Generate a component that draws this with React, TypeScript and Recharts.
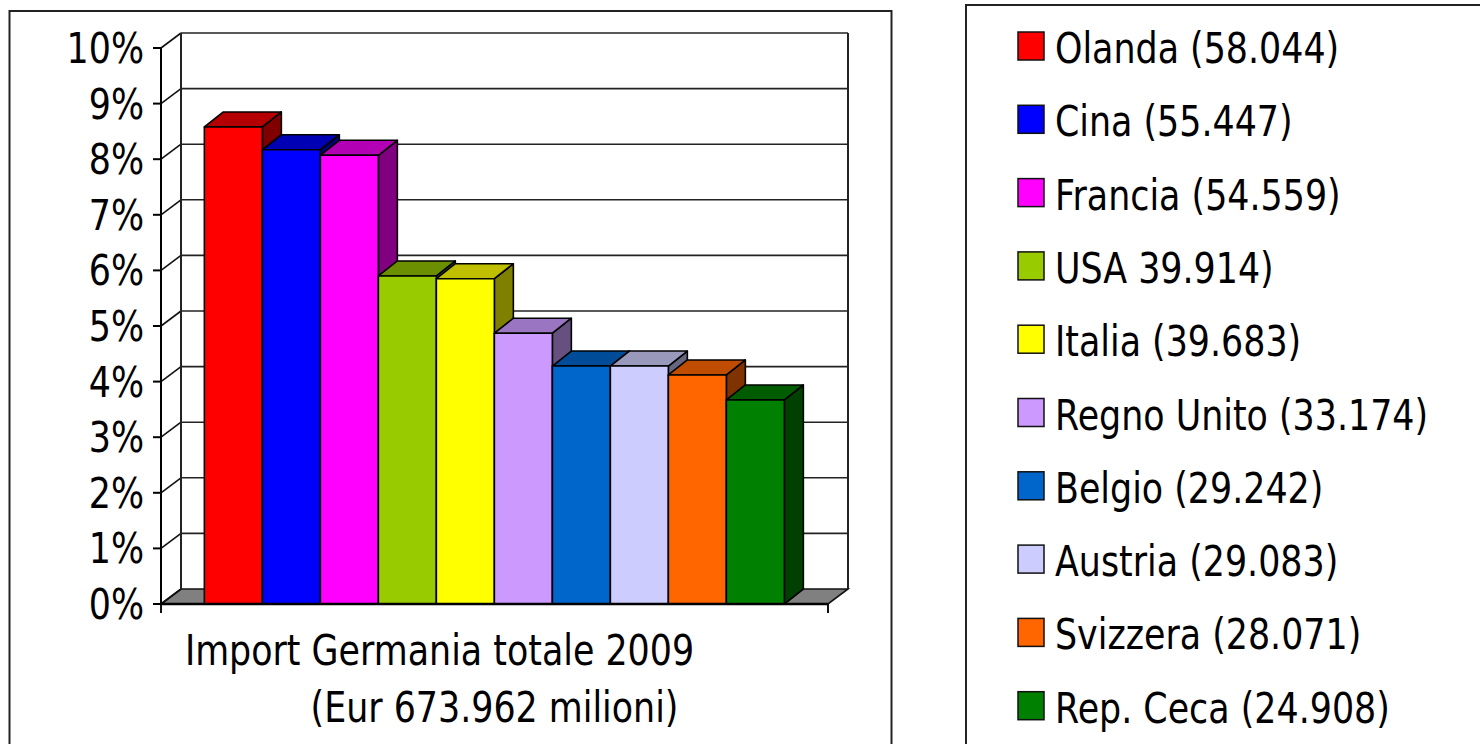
import React from "react";
import { BarChart, Bar, XAxis, YAxis, CartesianGrid } from "recharts";

const countries = [
  "Olanda",
  "Cina",
  "Francia",
  "USA",
  "Italia",
  "Regno Unito",
  "Belgio",
  "Austria",
  "Svizzera",
  "Rep. Ceca",
];
const legendLabels = [
  "Olanda (58.044)",
  "Cina (55.447)",
  "Francia (54.559)",
  "USA 39.914)",
  "Italia (39.683)",
  "Regno Unito (33.174)",
  "Belgio (29.242)",
  "Austria (29.083)",
  "Svizzera (28.071)",
  "Rep. Ceca (24.908)",
];
// share of total German imports, in %
const shares = [8.58, 8.17, 8.07, 5.9, 5.85, 4.87, 4.28, 4.28, 4.12, 3.67];
const fronts = ["#ff0000", "#0000ff", "#ff00ff", "#99cc00", "#ffff00", "#cc99ff", "#0066cc", "#ccccff", "#ff6600", "#008000"];
const tops = ["#b40000", "#0000b4", "#b400b4", "#6b8f00", "#bfbf00", "#9a75c2", "#004c99", "#9999bb", "#c04c00", "#005c00"];
const sides = ["#800000", "#000080", "#800080", "#4d6600", "#808000", "#66507f", "#003366", "#666680", "#803300", "#004000"];
const yTicks = [0, 1, 2, 3, 4, 5, 6, 7, 8, 9, 10];
const axisTitle = ["Import Germania totale 2009", "(Eur 673.962 milioni)"];

const FONT = "'DejaVu Sans', Verdana, sans-serif";
const SQUEEZE = 0.83;
const DX = 20;
const DY = 15;
const BAR_DX = 19;

const data = [
  countries.reduce(
    (row, _c, i) => ({ ...row, [`s${i}`]: shares[i] }),
    { name: axisTitle.join(" ") } as Record<string, string | number>
  ),
];

const Box3D = (props: any) => {
  const { x, y, width, height, front, top, side } = props;
  if (width == null || height == null) return null;
  const w = width;
  const h = height;
  return (
    <g stroke="#000" strokeWidth={1.6} strokeLinejoin="round">
      <polygon
        points={`${x + w},${y} ${x + w + BAR_DX},${y - DY} ${x + w + BAR_DX},${y + h - DY} ${x + w},${y + h}`}
        fill={side}
      />
      <polygon
        points={`${x},${y} ${x + BAR_DX},${y - DY} ${x + w + BAR_DX},${y - DY} ${x + w},${y}`}
        fill={top}
      />
      <rect x={x} y={y} width={w} height={h} fill={front} />
    </g>
  );
};

const HLine = (props: any) => {
  const { x1, y1, x2, index } = props;
  const bottom = props.y != null && props.height != null ? props.y + props.height : null;
  const isFloor = bottom != null ? Math.abs(y1 - bottom) < 0.5 : index === 0;
  return (
    <g key={props.key}>
      {isFloor ? (
        <polygon
          points={`${x1},${y1} ${x1 + DX},${y1 - DY} ${x2 + DX},${y1 - DY} ${x2},${y1}`}
          fill="#808080"
          stroke="#111"
          strokeWidth={1.6}
        />
      ) : (
        <line x1={x1 + DX} y1={y1 - DY} x2={x2 + DX} y2={y1 - DY} stroke="#222" strokeWidth={1.6} />
      )}
      <line x1={x1} y1={y1} x2={x1 + DX} y2={y1 - DY} stroke="#111" strokeWidth={1.6} />
    </g>
  );
};

const VLine = (props: any) => {
  const { x1, y1, y2 } = props;
  return (
    <g key={props.key}>
      <line x1={x1 + DX} y1={y1 - DY} x2={x1 + DX} y2={y2 - DY} stroke="#222" strokeWidth={2} />
      <line x1={x1} y1={y2} x2={x1} y2={y2 + 9} stroke="#111" strokeWidth={2} />
    </g>
  );
};

const YTick = (props: any) => {
  const { x, y, payload } = props;
  return (
    <text
      transform={`translate(${x},${y + 15}) scale(${SQUEEZE},1)`}
      textAnchor="end"
      fontFamily={FONT}
      fontSize={42}
      fill="#000"
    >
      {`${payload.value}%`}
    </text>
  );
};

const XTick = (props: any) => {
  const { x, y } = props;
  return (
    <g fontFamily={FONT} fontSize={42} fill="#000">
      <text transform={`translate(${x - 55},${y + 61}) scale(${SQUEEZE},1)`} textAnchor="middle">
        {axisTitle[0]}
      </text>
      <text transform={`translate(${x},${y + 118}) scale(${SQUEEZE},1)`} textAnchor="middle">
        {axisTitle[1]}
      </text>
    </g>
  );
};

const Frames = () => (
  <svg
    width={1480}
    height={744}
    style={{ position: "absolute", left: 0, top: 0 }}
  >
    <rect x={9.5} y={11} width={882} height={780} fill="#fff" stroke="#222" strokeWidth={2} />
    <rect x={966} y={5} width={600} height={800} fill="#fff" stroke="#222" strokeWidth={2} />
    <g fontFamily={FONT} fontSize={42} fill="#000">
      {legendLabels.map((label, i) => {
        const base = 63 + i * 73.3;
        return (
          <g key={label}>
            <rect x={1018} y={base - 31} width={26} height={28} fill={fronts[i]} stroke="#111" strokeWidth={1.5} />
            <text transform={`translate(1055,${base}) scale(${SQUEEZE},1)`}>{label}</text>
          </g>
        );
      })}
    </g>
  </svg>
);

export default function App() {
  return (
    <div
      style={{
        position: "absolute",
        left: 0,
        top: 0,
        width: 1480,
        height: 744,
        overflow: "hidden",
        background: "#fff",
      }}
    >
      <Frames />
      <div style={{ position: "absolute", left: 0, top: 0 }}>
        <BarChart
          width={1480}
          height={744}
          data={data}
          margin={{ top: 48, right: 652, bottom: 0, left: 0 }}
          barCategoryGap="6.5%"
          barGap={0}
        >
          <CartesianGrid
            horizontal={(p: any) => <HLine {...p} />}
            vertical={(p: any) => <VLine {...p} />}
            verticalCoordinatesGenerator={({ offset }: any) => [offset.left, offset.left + offset.width]}
          />
          <XAxis
            dataKey="name"
            height={140}
            axisLine={{ stroke: "#000", strokeWidth: 2.5 }}
            tickLine={false}
            tickSize={0}
            tickMargin={0}
            tick={<XTick />}
          />
          <YAxis
            width={161}
            domain={[0, 10]}
            ticks={yTicks}
            interval={0}
            axisLine={{ stroke: "#000", strokeWidth: 2 }}
            tickLine={{ stroke: "#000", strokeWidth: 2 }}
            tickSize={8}
            tickMargin={9}
            tick={<YTick />}
          />
          {countries.map((c, i) => (
            <Bar
              key={c}
              dataKey={`s${i}`}
              name={legendLabels[i]}
              fill={fronts[i]}
              isAnimationActive={false}
              shape={(p: any) => <Box3D {...p} front={fronts[i]} top={tops[i]} side={sides[i]} />}
            />
          ))}
        </BarChart>
      </div>
    </div>
  );
}
